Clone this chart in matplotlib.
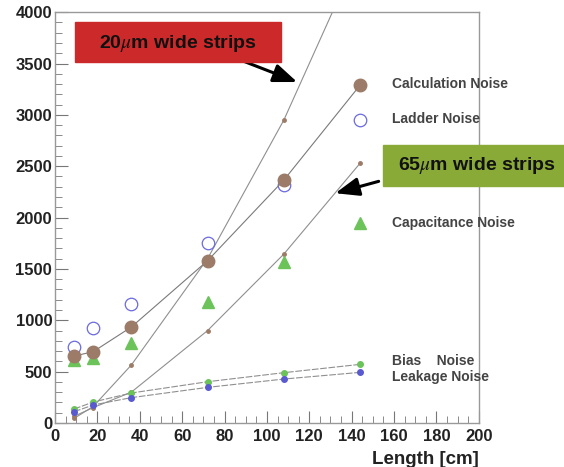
import matplotlib
matplotlib.use('Agg')
import matplotlib.pyplot as plt
from matplotlib.ticker import MultipleLocator

plt.rcParams['font.family'] = ['Liberation Sans', 'DejaVu Sans']
plt.rcParams['mathtext.fontset'] = 'stix'

# strip length [cm]
length = [9, 18, 36, 72, 108, 144]

# noise values
calc_noise = [652, 694, 934, 1580, 2365, 3290]
ladder_noise = [740, 925, 1158, 1749, 2316, 2949]
cap_noise = [613, 633, 779, 1181, 1567, 1946]
bias_noise = [136, 204, 292, 402, 490, 571]
leak_noise = [110, 175, 247, 347, 428, 493]
strips20 = [45, 160, 564, 1600, 2950, 4600]
strips65 = [65, 150, 300, 900, 1645, 2530]

brown = '#9c7c68'
blue = '#6a6ae0'
green = '#6cc35a'
lgray = '#8f8f8f'

fig = plt.figure(figsize=(5.64, 4.67), dpi=100)
ax = fig.add_axes([0.0975, 0.0942, 0.7515, 0.8798])

# curves for the two strip widths
ax.plot(length, strips20, color=lgray, lw=0.8, marker='o', ms=2.5,
        mfc=brown, mec=brown)
ax.plot(length, strips65, color=lgray, lw=0.8, marker='o', ms=2.5,
        mfc=brown, mec=brown)

# bias / leakage
ax.plot(length, bias_noise, color=lgray, lw=0.8, ls=(0, (6, 1.5)),
        marker='o', ms=4, mfc=green, mec=green)
ax.plot(length, leak_noise, color=lgray, lw=0.8, ls=(0, (6, 1.5)),
        marker='o', ms=4, mfc='#5a5ad0', mec='#5a5ad0')

ax.plot(length, cap_noise, ls='none', marker='^', ms=8, color=green)
ax.plot(length, ladder_noise, ls='none', marker='o', ms=9, mfc='none',
        mec=blue, mew=0.9)
ax.plot(length, calc_noise, color='#7a7a7a', lw=0.8, marker='o', ms=9,
        mfc=brown, mec=brown)

ax.set_xlim(0, 200)
ax.set_ylim(0, 4000)
ax.xaxis.set_major_locator(MultipleLocator(20))
ax.xaxis.set_minor_locator(MultipleLocator(5))
ax.yaxis.set_major_locator(MultipleLocator(500))
ax.yaxis.set_minor_locator(MultipleLocator(100))
ax.tick_params(which='both', direction='in', color='#777777', top=False,
               right=False, labelsize=12, labelcolor='#222222', pad=2)
ax.tick_params(axis='x', pad=4)
ax.tick_params(which='major', length=9)
ax.tick_params(which='minor', length=5)
for lab in ax.get_xticklabels() + ax.get_yticklabels():
    lab.set_fontweight('bold')
for sp in ax.spines.values():
    sp.set_color('#999999')
    sp.set_linewidth(1.0)

ax.set_xlabel('Length [cm]', fontsize=13.5, fontweight='bold', color='#222222',
              loc='right', labelpad=5)

# labels next to the last points
lab_kw = dict(fontsize=10, fontweight='bold', color='#444444',
              va='center', clip_on=False)
ax.text(159, 3300, 'Calculation Noise', **lab_kw)
ax.text(159, 2960, 'Ladder Noise', **lab_kw)
ax.text(159, 1946, 'Capacitance Noise', **lab_kw)
ax.text(159, 600, 'Bias    Noise', **lab_kw)
ax.text(159, 450, 'Leakage Noise', **lab_kw)

# arrows to the curves
ax.annotate('', xy=(115.5, 3310), xytext=(88, 3530),
            arrowprops=dict(arrowstyle='-|>,head_length=0.9,head_width=0.35',
                            color='black', lw=2.2, mutation_scale=16))
ax.annotate('', xy=(131, 2230), xytext=(154, 2360),
            arrowprops=dict(arrowstyle='-|>,head_length=0.9,head_width=0.35',
                            color='black', lw=2.2, mutation_scale=16))

# annotation boxes
box_red = plt.Rectangle((75 / 564, 1 - 62 / 467), 206 / 564, 40 / 467,
                        transform=fig.transFigure, color='#cc2a2a', zorder=5)
box_green = plt.Rectangle((383 / 564, 1 - 186 / 467), 181 / 564, 41 / 467,
                          transform=fig.transFigure, color='#8aaa38', zorder=5)
fig.add_artist(box_red)
fig.add_artist(box_green)
fig.text(178 / 564, 1 - 43 / 467, r'20$\mathit{\mu}$m wide strips', fontsize=14,
         fontweight='bold', ha='center', va='center', color='#111111',
         zorder=6)
fig.text(477 / 564, 1 - 166 / 467, r'65$\mathit{\mu}$m wide strips', fontsize=14,
         fontweight='bold', ha='center', va='center', color='#111111',
         zorder=6)

fig.savefig('out.png', dpi=100)
